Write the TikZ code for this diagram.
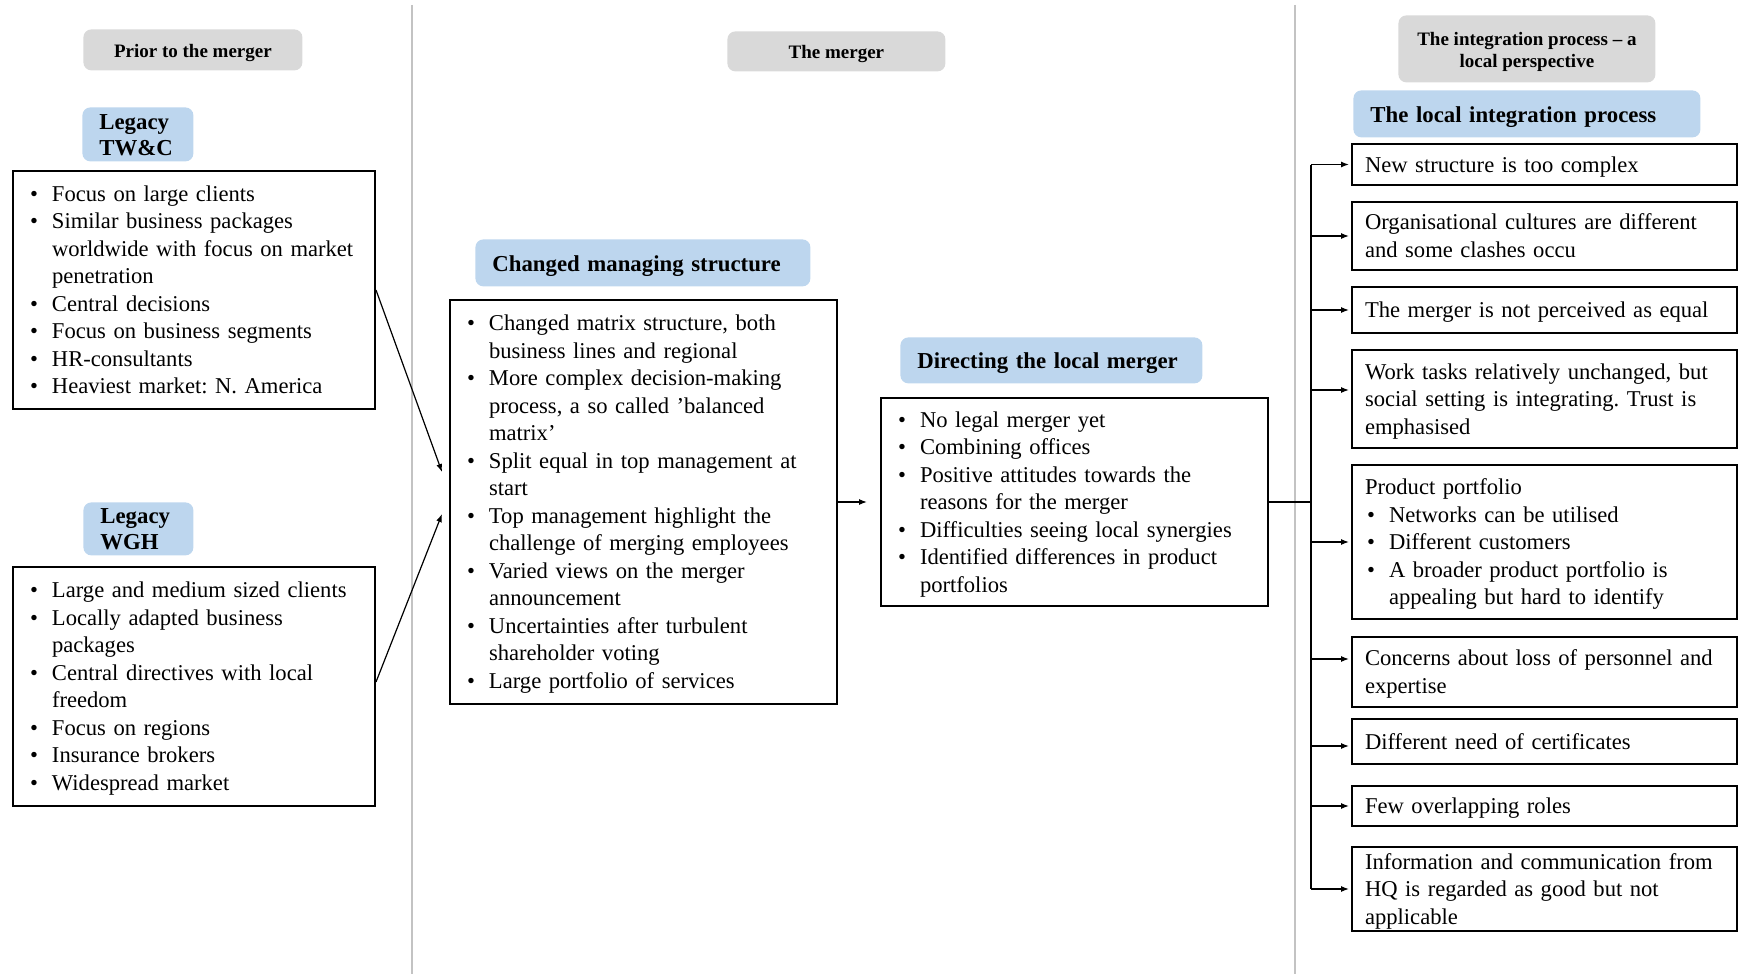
\documentclass[tikz,border=0pt]{standalone}
\usepackage{fontspec}
\setmainfont{Liberation Serif}
\usetikzlibrary{arrows.meta}
\frenchspacing

\definecolor{hdgray}{RGB}{217,217,217}
\definecolor{hdblue}{RGB}{189,214,238}
\definecolor{sepgray}{RGB}{195,195,195}

% bullet with a fixed hanging width, and the matching indent for wrapped lines
\newcommand\bul{\makebox[11pt][l]{\textbullet}}
\newcommand\ind{\hspace*{11pt}}
% move a block down without changing its size
\newcommand\dropby[2]{\raisebox{-#1}[\height][\depth]{#2}}
\newcommand\rows[1]{\dropby{1pt}{\begin{tabular}{@{}l@{}}#1\end{tabular}}}
\newcommand\crows[1]{\dropby{1.5pt}{\begin{tabular}{@{}c@{}}#1\end{tabular}}}

\begin{document}
\begin{tikzpicture}[x=0.5pt,y=-0.5pt,
  body/.style={font=\fontsize{11.3}{13.75}\selectfont},
  txtbox/.style={body, draw, line width=1pt, rectangle, anchor=north west,
    inner ysep=0pt, inner xsep=8.5pt},
  rbox/.style={txtbox, inner xsep=6.5pt, text width=179.5pt},
  phase/.style={fill=hdgray, rounded corners=4pt, anchor=north west,
    inner sep=0pt, align=center, font=\fontsize{9.5}{11}\selectfont\bfseries},
  topic/.style={fill=hdblue, rounded corners=4pt, anchor=north west,
    inner ysep=0pt, inner xsep=8.5pt, align=left,
    font=\fontsize{11.4}{13}\selectfont\bfseries},
  link/.style={line width=0.6pt},
  arr/.style={link, -{Latex[length=4pt,width=3pt]}},
  sep/.style={draw=sepgray, line width=1pt}
]
\useasboundingbox (0,0) rectangle (1738,974);

% column separators
\draw[sep] (412,5) -- (412,974);
\draw[sep] (1295,5) -- (1295,974);

% phase headings
\node[phase, minimum width=109.5pt, minimum height=20.5pt] (ph1) at (83,29) {\crows{Prior to the merger}};
\node[phase, minimum width=109pt, minimum height=20pt] (ph2) at (727,31) {\crows{The merger}};
\node[phase, minimum width=128.5pt, minimum height=33.5pt] (ph3) at (1398,15) {\crows{The integration process – a\\local perspective}};

% topic headings
\node[topic, text width=38.5pt, minimum height=27pt] (tw) at (82,107) {\dropby{1.5pt}{\begin{tabular}{@{}l@{}}Legacy\\TW\&C\end{tabular}}};
\node[topic, text width=38pt, minimum height=26.5pt] (wgh) at (83,502) {\dropby{1.3pt}{\begin{tabular}{@{}l@{}}Legacy\\WGH\end{tabular}}};
\node[topic, text width=150.5pt, minimum height=23.5pt] (cms) at (475,239) {\dropby{1.5pt}{Changed managing structure}};
\node[topic, text width=134pt, minimum height=23pt] (dlm) at (900,337) {\dropby{1.5pt}{Directing the local merger}};
\node[topic, text width=156.5pt, minimum height=23.5pt] (lip) at (1353,90) {\dropby{1.5pt}{The local integration process}};

% prior to the merger
\node[txtbox, text width=164pt, minimum height=119pt] (b1) at (12,170) {\rows{%
\bul Focus on large clients\\
\bul Similar business packages\\
\ind worldwide with focus on market\\
\ind penetration\\
\bul Central decisions\\
\bul Focus on business segments\\
\bul HR-consultants\\
\bul Heaviest market: N. America}};

\node[txtbox, text width=164pt, minimum height=119.5pt] (b2) at (12,566) {\rows{%
\bul Large and medium sized clients\\
\bul Locally adapted business\\
\ind packages\\
\bul Central directives with local\\
\ind freedom\\
\bul Focus on regions\\
\bul Insurance brokers\\
\bul Widespread market}};

% the merger
\node[txtbox, text width=176.5pt, minimum height=202pt] (b3) at (449,299) {\rows{%
\bul Changed matrix structure, both\\
\ind business lines and regional\\
\bul More complex decision-making\\
\ind process, a so called ’balanced\\
\ind matrix’\\
\bul Split equal in top management at\\
\ind start\\
\bul Top management highlight the\\
\ind challenge of merging employees\\
\bul Varied views on the merger\\
\ind announcement\\
\bul Uncertainties after turbulent\\
\ind shareholder voting\\
\bul Large portfolio of services}};

\node[txtbox, text width=176.5pt, minimum height=104pt] (b4) at (880,397) {\rows{%
\bul No legal merger yet\\
\bul Combining offices\\
\bul Positive attitudes towards the\\
\ind reasons for the merger\\
\bul Difficulties seeing local synergies\\
\bul Identified differences in product\\
\ind portfolios}};

% local integration process
\node[rbox, minimum height=20.5pt] (r1) at (1351,143) {\rows{New structure is too complex}};
\node[rbox, minimum height=34pt] (r2) at (1351,201) {\rows{Organisational cultures are different\\and some clashes occu}};
\node[rbox, minimum height=23pt] (r3) at (1351,286) {\rows{The merger is not perceived as equal}};
\node[rbox, minimum height=49pt] (r4) at (1351,349) {\rows{Work tasks relatively unchanged, but\\social setting is integrating. Trust is\\emphasised}};
\node[rbox, minimum height=77pt] (r5) at (1351,464) {\rows{%
Product portfolio\\
\hspace*{1pt}\bul Networks can be utilised\\
\hspace*{1pt}\bul Different customers\\
\hspace*{1pt}\bul A broader product portfolio is\\
\hspace*{12pt}appealing but hard to identify}};
\node[rbox, minimum height=35pt] (r6) at (1351,636) {\rows{Concerns about loss of personnel and\\expertise}};
\node[rbox, minimum height=22.5pt] (r7) at (1351,718) {\rows{Different need of certificates}};
\node[rbox, minimum height=20pt] (r8) at (1351,785) {\rows{Few overlapping roles}};
\node[rbox, minimum height=42pt] (r9) at (1351,846) {\rows{Information and communication from\\HQ is regarded as good but not\\applicable}};

% connectors
\draw[arr] (b1.east) -- ([xshift=-3.5pt,yshift=15pt]b3.west);
\draw[arr] ([yshift=2.25pt]b2.east) -- ([xshift=-3.5pt,yshift=-6pt]b3.west);
\draw[arr, shorten >=6.5pt] (b3.east) -- (b4.west);

\path (b4.east) ++(21pt,0) coordinate (bus);
\draw[link] (b4.east) -- (bus);
\draw[link] (bus |- r1.west) -- (bus |- r9.west);
\foreach \r/\dy in {r1/0,r2/0,r3/0,r4/4.5,r5/0,r6/6.5,r7/-2.25,r8/0,r9/0}{
  \coordinate (\r-in) at ([yshift=\dy pt]\r.west);
  \draw[arr, shorten >=1pt] (bus |- \r-in) -- (\r-in);
}
\end{tikzpicture}
\end{document}
